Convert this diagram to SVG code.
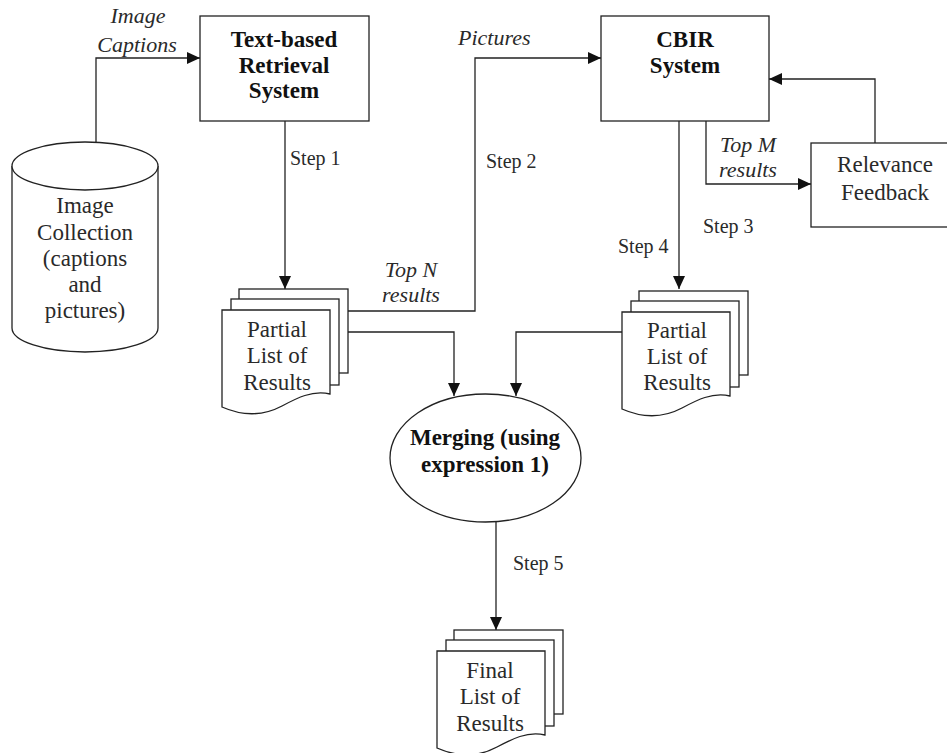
<svg xmlns="http://www.w3.org/2000/svg" width="947" height="753" viewBox="0 0 947 753">
<style>
.s{fill:#fff;stroke:#222;stroke-width:1.3}
.c{fill:none;stroke:#222;stroke-width:1.3}
text{font-family:"Liberation Serif","Times New Roman",serif;fill:#2a2a2a}
.r{font-size:23px}
.b{font-size:23px;font-weight:bold;fill:#111}
.i{font-size:22px;font-style:italic}
.st{font-size:20px}
.m{text-anchor:middle}
</style>
<defs>
<marker id="ah" markerUnits="userSpaceOnUse" markerWidth="14" markerHeight="12" refX="13" refY="6" orient="auto">
<path d="M0,0 L13,6 L0,12 z" fill="#111"/>
</marker>
<g id="docs">
<rect class="s" x="17" y="-21" width="109" height="84"/>
<rect class="s" x="9" y="-11" width="108" height="86"/>
<path class="s" d="M0,0 H108 V84 C90,80 75,88 60,96 C45,104 25,108 0,97 Z"/>
</g>
</defs>

<g id="connectors">
<path class="c" d="M96,142 V58 H200" marker-end="url(#ah)"/>
<path class="c" d="M285,121 V289" marker-end="url(#ah)"/>
<path class="c" d="M348,311 H475 V58 H601" marker-end="url(#ah)"/>
<path class="c" d="M348,332 H454 V396" marker-end="url(#ah)"/>
<path class="c" d="M622,332 H516 V396" marker-end="url(#ah)"/>
<path class="c" d="M679,121 V289" marker-end="url(#ah)"/>
<path class="c" d="M706,121 V184 H811" marker-end="url(#ah)"/>
<path class="c" d="M875,143 V79 H769" marker-end="url(#ah)"/>
<path class="c" d="M496,522 V630" marker-end="url(#ah)"/>
<text class="i m" x="138" y="23">Image</text>
<text class="i m" x="137" y="52">Captions</text>
<text class="i" x="458" y="45">Pictures</text>
<text class="st" x="290" y="165">Step 1</text>
<text class="st" x="486" y="168">Step 2</text>
<text class="i m" x="411" y="277">Top N</text>
<text class="i m" x="411" y="302">results</text>
<text class="i m" x="748" y="152">Top M</text>
<text class="i m" x="748" y="177">results</text>
<text class="st" x="703" y="233">Step 3</text>
<text class="st" x="618" y="253">Step 4</text>
<text class="st" x="513" y="570">Step 5</text>
</g>

<g id="image-collection">
<path class="s" d="M12,166 V328 A73,24 0 0 0 158,328 V166"/>
<ellipse class="s" cx="85" cy="166" rx="73" ry="24"/>
<text class="r m" x="85" y="213">Image</text>
<text class="r m" x="85" y="240">Collection</text>
<text class="r m" x="85" y="266">(captions</text>
<text class="r m" x="85" y="292">and</text>
<text class="r m" x="85" y="318">pictures)</text>
</g>

<g id="text-retrieval">
<rect class="s" x="200" y="16" width="169" height="105"/>
<text class="b m" x="284" y="47">Text-based</text>
<text class="b m" x="284" y="73">Retrieval</text>
<text class="b m" x="284" y="98">System</text>
</g>

<g id="cbir">
<rect class="s" x="601" y="16" width="168" height="105"/>
<text class="b m" x="685" y="47">CBIR</text>
<text class="b m" x="685" y="73">System</text>
</g>

<g id="relevance-feedback">
<rect class="s" x="811" y="143" width="140" height="84"/>
<text class="r m" x="885" y="172">Relevance</text>
<text class="r m" x="885" y="200">Feedback</text>
</g>

<g id="partial-left">
<use href="#docs" x="222" y="310"/>
<text class="r m" x="277" y="337">Partial</text>
<text class="r m" x="277" y="363">List of</text>
<text class="r m" x="277" y="390">Results</text>
</g>

<g id="partial-right">
<use href="#docs" x="622" y="312"/>
<text class="r m" x="677" y="338">Partial</text>
<text class="r m" x="677" y="364">List of</text>
<text class="r m" x="677" y="390">Results</text>
</g>

<g id="merging">
<ellipse class="s" cx="485.5" cy="458" rx="95.5" ry="64"/>
<text class="b m" x="485" y="445">Merging (using</text>
<text class="b m" x="485" y="472">expression 1)</text>
</g>

<g id="final-list">
<use href="#docs" x="437" y="651"/>
<text class="r m" x="490" y="678">Final</text>
<text class="r m" x="490" y="704">List of</text>
<text class="r m" x="490" y="731">Results</text>
</g>
</svg>
